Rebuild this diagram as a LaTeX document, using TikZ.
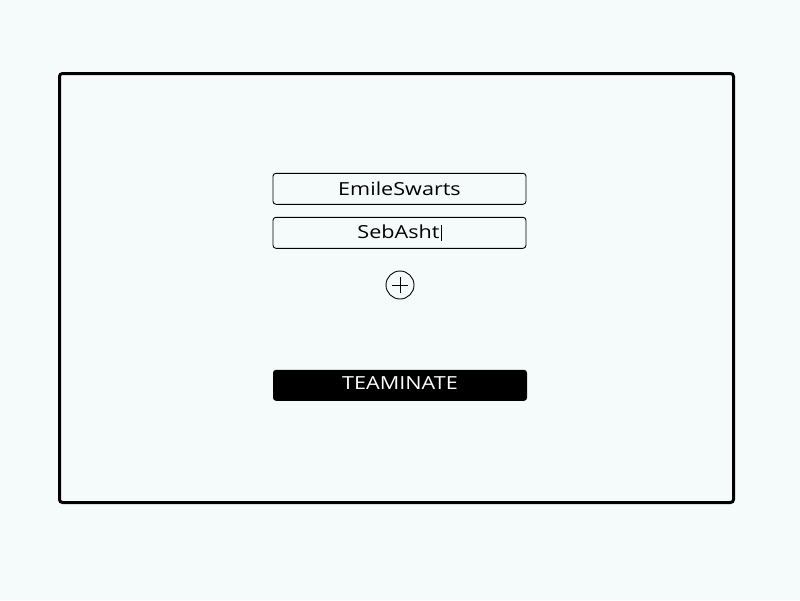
\documentclass[tikz,border=0pt]{standalone}
\usepackage{fontspec}
\setmainfont{Open Sans}
\newfontfamily\uifont[FakeStretch=1.2]{Open Sans}
\definecolor{bg}{HTML}{F5FBFB}
\begin{document}
\begin{tikzpicture}[x=1pt,y=-1pt,
  field/.style={draw=black,line width=0.9pt,rounded corners=3pt,minimum width=253pt,minimum height=31pt,inner sep=0pt,font=\uifont\fontsize{18}{22}\selectfont},
  btn/.style={fill=black,rounded corners=3pt,minimum width=254pt,minimum height=31pt,inner sep=0pt,text=white,font=\uifont\fontsize{18}{22}\selectfont},
  frame/.style={draw=black,line width=3pt,rounded corners=3pt}]
\fill[bg] (0,0) rectangle (800,600);
\useasboundingbox (0,0) rectangle (800,600);
\draw[frame] (59.5,73.5) rectangle (733.5,502.5);
\node[field] (user1) at (399.5,188.8) {EmileSwarts};
\node[field] (user2) at (399.5,232.8) {SebAsht\hspace{1pt}\rule[-2.5pt]{1pt}{16.5pt}};
\node[draw=black,line width=0.9pt,circle,minimum size=28pt,inner sep=0pt] (add) at (400,285) {};
\draw[line width=1pt] ([xshift=-8pt]add.center) -- ([xshift=8pt]add.center);
\draw[line width=1pt] ([yshift=-8pt]add.center) -- ([yshift=8pt]add.center);
\node[btn] (go) at (400,385.3) {\raisebox{5pt}{TEAMINATE}};
\end{tikzpicture}
\end{document}
